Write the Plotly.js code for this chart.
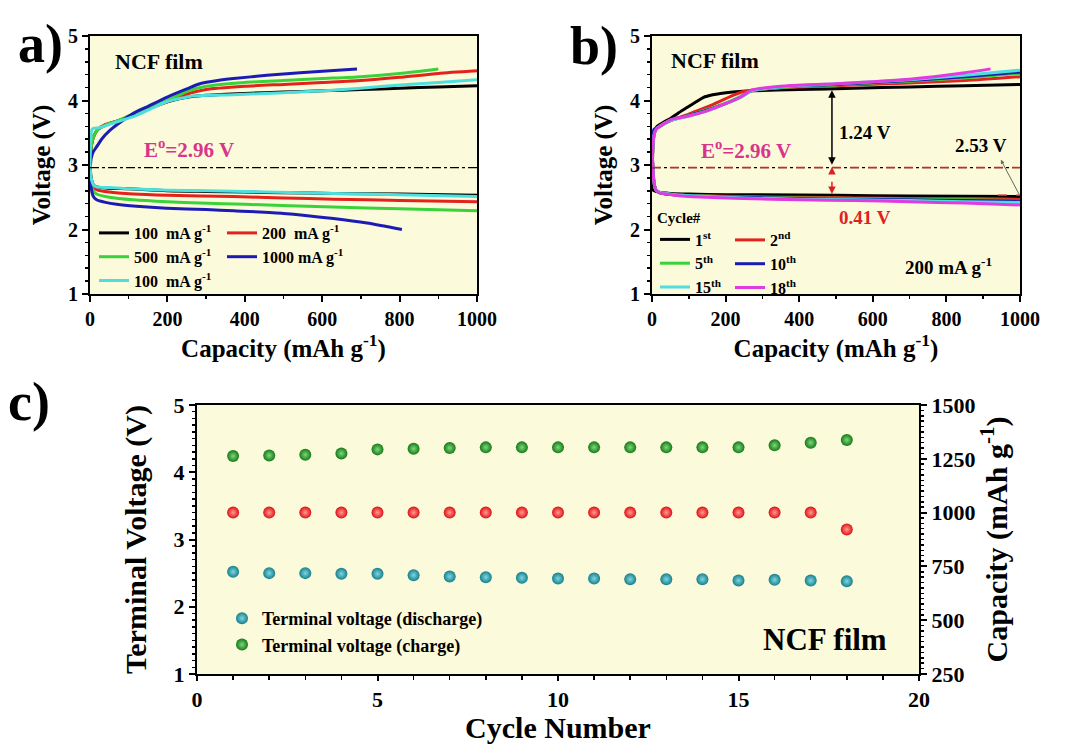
<!DOCTYPE html>
<html><head><meta charset="utf-8">
<script src="https://cdn.plot.ly/plotly-3.0.1.min.js"></script>
<style>html,body{margin:0;padding:0;background:#fff}#chart{width:1067px;height:744px}</style>
</head><body><div id="chart"></div>
<script>
// ---------- Panel a data (Capacity mAh/g, Voltage V) ----------
const aLabels = ['100  mA g<sup>-1</sup>','200  mA g<sup>-1</sup>','500  mA g<sup>-1</sup>','1000 mA g<sup>-1</sup>','100  mA g<sup>-1</sup>'];
const aC100aCap = [0,2,5,10,20,40,70,100,150,200,250,300,400,500,600,700,800,900,1000];
const aC100aV   = [2.95,3.2,3.35,3.45,3.55,3.62,3.68,3.75,3.88,3.98,4.05,4.08,4.11,4.13,4.15,4.17,4.19,4.21,4.23];
const aC200Cap  = [0,2,5,10,20,40,70,100,150,200,250,300,400,500,600,700,800,900,1000];
const aC200V    = [2.95,3.2,3.35,3.45,3.55,3.63,3.68,3.74,3.87,3.98,4.1,4.17,4.22,4.25,4.28,4.31,4.36,4.42,4.46];
const aC500Cap  = [0,2,5,10,20,40,70,100,150,200,250,300,400,500,600,700,800,900];
const aC500V    = [2.95,3.2,3.35,3.45,3.55,3.62,3.68,3.76,3.89,4.0,4.14,4.22,4.28,4.31,4.34,4.37,4.42,4.49];
const aC1000Cap = [0,3,8,17,30,52,80,112,150,198,250,284,330,371,457,543,620,690];
const aC1000V   = [2.9,3.1,3.2,3.28,3.4,3.54,3.67,3.8,3.91,4.05,4.18,4.26,4.31,4.34,4.39,4.43,4.46,4.49];
const aC100bCap = [0,2,5,10,26,60,112,150,198,267,371,500,629,700,802,900,1000];
const aC100bV   = [2.95,3.4,3.55,3.57,3.58,3.65,3.75,3.85,3.98,4.07,4.09,4.12,4.16,4.19,4.24,4.28,4.32];
const aD100aCap = [0,3,8,17,50,100,198,300,400,500,629,800,1000];
const aD100aV   = [3.0,2.8,2.7,2.66,2.64,2.63,2.6,2.59,2.58,2.57,2.56,2.55,2.53];
const aD200Cap  = [0,3,8,17,50,112,200,371,500,629,800,1000];
const aD200V    = [3.0,2.75,2.66,2.62,2.58,2.55,2.53,2.51,2.49,2.47,2.45,2.43];
const aD500Cap  = [0,3,8,17,50,112,200,284,400,629,800,1000];
const aD500V    = [3.0,2.7,2.6,2.55,2.5,2.46,2.43,2.41,2.39,2.35,2.32,2.29];
const aD1000Cap = [0,3,8,17,40,69,120,198,300,371,500,629,716,806];
const aD1000V   = [3.0,2.65,2.52,2.46,2.42,2.39,2.36,2.33,2.31,2.29,2.25,2.17,2.1,2.0];
const aD100bCap = [0,3,8,17,50,100,200,400,629,800,1000];
const aD100bV   = [3.0,2.8,2.7,2.66,2.65,2.63,2.61,2.59,2.56,2.54,2.51];

// ---------- Panel b data ----------
const bLabels = ['1<sup>st</sup>','2<sup>nd</sup>','5<sup>th</sup>','10<sup>th</sup>','15<sup>th</sup>','18<sup>th</sup>'];
const bC1Cap  = [0,2,5,10,14,30,50,70,95,120,140,165,186,220,276,400,548,700,850,1000];
const bC1V    = [2.62,3.2,3.45,3.56,3.6,3.66,3.72,3.8,3.89,3.98,4.05,4.09,4.11,4.13,4.15,4.17,4.19,4.21,4.23,4.25];
const bC2Cap  = [0,2,5,10,14,30,50,100,150,186,220,250,300,400,548,700,850,1000];
const bC2V    = [2.9,3.25,3.45,3.54,3.57,3.64,3.69,3.79,3.9,3.99,4.08,4.14,4.18,4.21,4.24,4.27,4.31,4.37];
const bCCap   = [0,2,5,10,14,30,50,100,150,200,240,270,350,500,700,850,1000];
const bC5V    = [2.9,3.25,3.45,3.54,3.57,3.63,3.69,3.77,3.86,3.96,4.06,4.15,4.2,4.24,4.3,4.35,4.42];
const bC10V   = [2.9,3.35,3.55,3.57,3.58,3.63,3.69,3.77,3.85,3.95,4.05,4.15,4.21,4.25,4.31,4.37,4.44];
const bC15V   = [2.9,3.25,3.45,3.54,3.57,3.63,3.69,3.76,3.84,3.95,4.05,4.15,4.21,4.26,4.32,4.39,4.47];
const bC18Cap = [0,2,5,10,14,30,50,100,150,200,240,270,350,500,700,850,920];
const bC18V   = [2.9,3.25,3.45,3.54,3.57,3.63,3.7,3.76,3.84,3.95,4.05,4.16,4.22,4.26,4.33,4.43,4.49];
const bD1Cap  = [0,10,30,50,100,200,300,500,700,1000];
const bD1V    = [2.62,2.59,2.57,2.56,2.55,2.54,2.54,2.53,2.52,2.51];
const bDCap   = [0,2,5,10,20,40,80,150,250,400,550,700,850,1000];
const bD2V    = [3.3,3.0,2.75,2.62,2.57,2.55,2.53,2.52,2.51,2.5,2.49,2.48,2.48,2.47];
const bD5V    = [3.3,3.0,2.75,2.62,2.57,2.55,2.53,2.52,2.5,2.49,2.48,2.47,2.46,2.45];
const bD10V   = [3.3,3.0,2.75,2.62,2.57,2.55,2.53,2.51,2.5,2.48,2.47,2.46,2.45,2.44];
const bD15V   = [3.3,3.0,2.75,2.62,2.58,2.56,2.53,2.51,2.49,2.47,2.46,2.45,2.43,2.42];
const bD18V   = [3.3,3.0,2.75,2.62,2.57,2.55,2.52,2.5,2.48,2.46,2.45,2.43,2.41,2.38];

// ---------- Panel c data ----------
const cycles = [1,2,3,4,5,6,7,8,9,10,11,12,13,14,15,16,17,18];
const chargeV = [4.24,4.25,4.26,4.28,4.34,4.35,4.36,4.37,4.37,4.37,4.37,4.37,4.37,4.37,4.37,4.40,4.44,4.48];
const dischargeV = [2.52,2.50,2.50,2.49,2.49,2.47,2.45,2.44,2.43,2.42,2.42,2.41,2.41,2.41,2.39,2.40,2.39,2.38];
const capacity = [1000,1000,1000,1000,1000,1000,1000,1000,1000,1000,1000,1000,1000,1000,1000,1000,1000,922];

const E0 = 2.96;

// ---------- styling ----------
const F = 'Liberation Serif, Times New Roman, serif';
const W = 1067, H = 744;
const COL = {k:'#000000', r:'#e3221c', g:'#3ad23a', b:'#1c1cb4', c:'#4fdede', m:'#e03ae0'};
const LW = 3;

const traces = [];
function curve(x, y, color, name, xa, ya, legend, show, group) {
  traces.push({type:'scatter', mode:'lines', x:x, y:y, name:name, xaxis:xa, yaxis:ya,
    line:{color:color, width:LW, shape:'spline', smoothing:0.6}, showlegend:show, legend:legend, legendgroup:group});
}
// panel a: order black, red, green, blue, cyan
curve(aC100aCap, aC100aV, COL.k, aLabels[0], 'x','y','legend', true, 'a1');
curve(aD100aCap, aD100aV, COL.k, aLabels[0], 'x','y','legend', false, 'a1');
curve(aC200Cap, aC200V, COL.r, aLabels[1], 'x','y','legend2', true, 'a2');
curve(aD200Cap, aD200V, COL.r, aLabels[1], 'x','y','legend2', false, 'a2');
curve(aC500Cap, aC500V, COL.g, aLabels[2], 'x','y','legend', true, 'a3');
curve(aD500Cap, aD500V, COL.g, aLabels[2], 'x','y','legend', false, 'a3');
curve(aC1000Cap, aC1000V, COL.b, aLabels[3], 'x','y','legend2', true, 'a4');
curve(aD1000Cap, aD1000V, COL.b, aLabels[3], 'x','y','legend2', false, 'a4');
curve(aC100bCap, aC100bV, COL.c, aLabels[4], 'x','y','legend', true, 'a5');
curve(aD100bCap, aD100bV, COL.c, aLabels[4], 'x','y','legend', false, 'a5');
// panel b
curve(bC1Cap, bC1V, COL.k, bLabels[0], 'x2','y2','legend3', true, 'b1');
curve(bD1Cap, bD1V, COL.k, bLabels[0], 'x2','y2','legend3', false, 'b1');
curve(bC2Cap, bC2V, COL.r, bLabels[1], 'x2','y2','legend4', true, 'b2');
curve(bDCap, bD2V, COL.r, bLabels[1], 'x2','y2','legend4', false, 'b2');
curve(bCCap, bC5V, COL.g, bLabels[2], 'x2','y2','legend3', true, 'b3');
curve(bDCap, bD5V, COL.g, bLabels[2], 'x2','y2','legend3', false, 'b3');
curve(bCCap, bC10V, COL.b, bLabels[3], 'x2','y2','legend4', true, 'b4');
curve(bDCap, bD10V, COL.b, bLabels[3], 'x2','y2','legend4', false, 'b4');
curve(bCCap, bC15V, COL.c, bLabels[4], 'x2','y2','legend3', true, 'b5');
curve(bDCap, bD15V, COL.c, bLabels[4], 'x2','y2','legend3', false, 'b5');
curve(bC18Cap, bC18V, COL.m, bLabels[5], 'x2','y2','legend4', true, 'b6');
curve(bDCap, bD18V, COL.m, bLabels[5], 'x2','y2','legend4', false, 'b6');
// panel c
function dots(x, y, color, light, name, ya, show) {
  traces.push({type:'scatter', mode:'markers', x:x, y:y, name:name, xaxis:'x3', yaxis:ya,
    marker:{size:12, color:color, line:{width:0}, gradient:{type:'radial', color:light}},
    showlegend:show, legend:'legend5'});
}
dots(cycles, dischargeV, '#16808c', '#7fd6de', 'Terminal voltage (discharge)', 'y3', true);
dots(cycles, chargeV, '#157a15', '#7fd67f', 'Terminal voltage (charge)', 'y3', true);
dots(cycles, capacity, '#e01010', '#ff9a9a', 'Capacity', 'y4', false);

const tf = {family:F, size:20, color:'#000', weight:'bold'};
function mn(d, len) { return {dtick:d, ticks:'outside', ticklen:len||3, tickwidth:1.5, tickcolor:'#000'}; }
function axis(extra) {
  return Object.assign({showline:true, linewidth:2, linecolor:'#000', mirror:true,
    ticks:'outside', ticklen:6, tickwidth:2, tickcolor:'#000', showgrid:false, zeroline:false,
    tickfont:tf}, extra);
}
const titleFontA = {family:F, size:25, color:'#000', weight:'bold'};
const titleFontC = {family:F, size:30, color:'#000', weight:'bold'};
const tfC = {family:F, size:22, color:'#000', weight:'bold'};

const legFont = {family:F, size:16, color:'#000', weight:'bold'};
function leg(x, y, extra) {
  return Object.assign({x:x, y:y, xanchor:'left', yanchor:'top', xref:'paper', yref:'paper',
    bgcolor:'rgba(0,0,0,0)', borderwidth:0, font:legFont, tracegroupgap:0, itemwidth:30}, extra);
}

const txt = (x, y, xr, yr, t, size, color) => ({x:x, y:y, xref:xr, yref:yr, text:t, showarrow:false,
  font:{family:F, size:size, color:color||'#000', weight:'bold'}});
const panelLbl = (cx, cy, t) => ({x:cx/W, y:1-cy/H, xref:'paper', yref:'paper', xanchor:'center', yanchor:'middle',
  text:t, showarrow:false, font:{family:F, size:54, color:'#000', weight:'bold'}});

const annotations = [
  panelLbl(40, 44, 'a)'),
  panelLbl(594, 46, 'b)'),
  panelLbl(29, 402, 'c)'),
  txt(178, 4.6, 'x', 'y', 'NCF film', 22),
  txt(256, 3.25, 'x', 'y', 'E<sup>o</sup>=2.96 V', 21, '#d9348c'),
  txt(171, 4.62, 'x2', 'y2', 'NCF film', 22),
  txt(255, 3.24, 'x2', 'y2', 'E<sup>o</sup>=2.96 V', 21, '#d9348c'),
  txt(579, 3.5, 'x2', 'y2', '1.24 V', 19),
  txt(579, 2.19, 'x2', 'y2', '0.41 V', 19, '#e02020'),
  txt(893, 3.3, 'x2', 'y2', '2.53 V', 19),
  txt(807, 1.44, 'x2', 'y2', '200 mA g<sup>-1</sup>', 19),
  {x:489, y:4.16, ax:489, ay:2.98, xref:'x2', yref:'y2', axref:'x2', ayref:'y2', text:'', showarrow:true,
    arrowside:'end+start', arrowhead:2, arrowsize:1, arrowwidth:1.5, arrowcolor:'#000'},
  {x:489, y:2.97, ax:489, ay:2.88, xref:'x2', yref:'y2', axref:'x2', ayref:'y2', text:'', showarrow:true,
    arrowhead:2, arrowsize:1, arrowwidth:1.5, arrowcolor:'#e02020'},
  {x:489, y:2.55, ax:489, ay:2.64, xref:'x2', yref:'y2', axref:'x2', ayref:'y2', text:'', showarrow:true,
    arrowhead:2, arrowsize:1, arrowwidth:1.5, arrowcolor:'#e02020'},
  {x:948, y:3.08, ax:1000, ay:2.52, xref:'x2', yref:'y2', axref:'x2', ayref:'y2', text:'', showarrow:true,
    arrowhead:2, arrowsize:0.8, arrowwidth:1, arrowcolor:'#666'},
  txt(17.4, 1.52, 'x3', 'y3', 'NCF film', 31)
];

const shapes = [
  {type:'line', xref:'x domain', yref:'y', x0:0, x1:1, y0:E0, y1:E0, line:{color:'#000', width:1.2, dash:'dashdot'}},
  {type:'line', xref:'x2 domain', yref:'y2', x0:0, x1:1, y0:E0, y1:E0, line:{color:'#000', width:1.2, dash:'dashdot'}},
  {type:'line', xref:'x2 domain', yref:'y2', x0:0, x1:1, y0:E0, y1:E0, line:{color:'#e02020', width:1.5, dash:'dash'}},
  {type:'line', xref:'x2', yref:'y2', x0:940, x1:1000, y0:2.53, y1:2.53, line:{color:'#e02020', width:1.5, dash:'dash'}},
  {type:'line', xref:'x2', yref:'y2', x0:489, x1:489, y0:2.6, y1:2.9, line:{color:'#e02020', width:1.5, dash:'dash'}}
];

const layout = {
  width:W, height:H, margin:{l:0, r:0, t:0, b:0},
  paper_bgcolor:'#ffffff', plot_bgcolor:'#fbfadb',
  font:{family:F, color:'#000'},
  showlegend:true,
  xaxis: axis({domain:[90/W, 477/W], range:[0,1000], anchor:'y', dtick:200, minor:mn(100),
    title:{text:'Capacity (mAh g<sup>-1</sup>)', font:titleFontA, standoff:4}}),
  yaxis: axis({domain:[1-294/H, 1-36/H], range:[1,5], anchor:'x', dtick:1, minor:mn(0.2),
    title:{text:'Voltage (V)', font:titleFontA, standoff:10}}),
  xaxis2: axis({domain:[652/W, 1020/W], range:[0,1000], anchor:'y2', dtick:200, minor:mn(100),
    title:{text:'Capacity (mAh g<sup>-1</sup>)', font:titleFontA, standoff:4}}),
  yaxis2: axis({domain:[1-294/H, 1-36/H], range:[1,5], anchor:'x2', dtick:1, minor:mn(0.2),
    title:{text:'Voltage (V)', font:titleFontA, standoff:10}}),
  xaxis3: axis({domain:[197/W, 919/W], range:[0,20], anchor:'y3', dtick:5, tickfont:tfC, ticklen:5, minor:mn(1, 4),
    title:{text:'Cycle Number', font:titleFontC, standoff:6}}),
  yaxis3: axis({domain:[1-674/H, 1-405/H], range:[1,5], anchor:'x3', dtick:1, tickfont:tfC, minor:mn(0.1),
    title:{text:'Terminal Voltage (V)', font:titleFontC, standoff:18}}),
  yaxis4: axis({overlaying:'y3', side:'right', anchor:'x3', range:[250,1500], dtick:250, mirror:false, tickfont:tfC, minor:mn(25),
    title:{text:'Capacity (mAh g<sup>-1</sup>)', font:titleFontC, standoff:10}}),
  legend:  leg(94/W, 1-216/H),
  legend2: leg(222/W, 1-216/H),
  legend3: leg(655/W, 1-203/H, {title:{text:'Cycle#', font:{family:F, size:15, color:'#000', weight:'bold'}}}),
  legend4: leg(730/W, 1-223/H),
  legend5: leg(222/W, 1-600/H, {font:{family:F, size:18, color:'#000', weight:'bold'}}),
  annotations: annotations,
  shapes: shapes
};

Plotly.newPlot('chart', traces, layout, {displayModeBar:false, staticPlot:true});
</script></body></html>
